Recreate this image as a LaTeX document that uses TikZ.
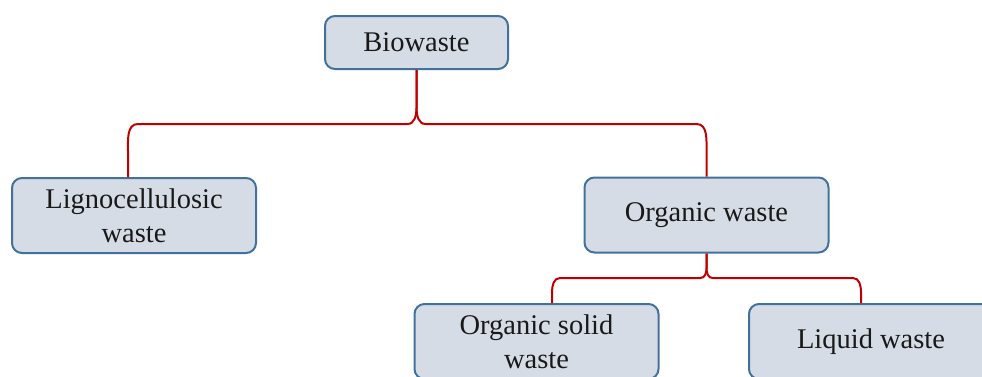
\documentclass[tikz,border=0pt]{standalone}
\usepackage{fontspec}
\setmainfont{Liberation Serif}
\usetikzlibrary{calc}
\definecolor{boxfill}{HTML}{D6DCE5}
\definecolor{boxline}{HTML}{41719C}
\definecolor{branchred}{HTML}{C00000}
\tikzset{
  wastebox/.style={draw=boxline, fill=boxfill, line width=2pt, rounded corners=10pt,
    minimum width=244pt, minimum height=75pt, inner sep=0pt, align=center,
    font=\fontsize{28.5}{34}\selectfont, text=black!90},
  branch/.style={draw=branchred, line width=2pt}
}
\begin{document}
\begin{tikzpicture}[x=1pt,y=1pt]
			%%%%% START %%%%%
			\clip (0,0) rectangle (982,376);
			
			\node[wastebox, minimum width=183pt, minimum height=53pt] (bio) at (416.5,333.5) {Biowaste};
			\node[wastebox] (ligno) at (134,160.5) {Lignocellulosic\\waste};
			\node[wastebox] (organic) at (706.5,161) {Organic waste};
			\node[wastebox] (solid) at (536.5,34.5) {Organic solid\\waste};
			\node[wastebox] (liquid) at (871,34.5) {Liquid waste};
			
			\coordinate (bioknot) at ($(bio.south)+(0,-54)$);
			\coordinate (lignotop) at ($(ligno.north)+(-6,0)$);
			\draw[branch] (bio.south) -- ++(0,-38) to[out=-90,in=0] ++(-9,-16) -- ($(lignotop |- bioknot)+(10,0)$) to[out=180,in=90] ++(-10,-27) -- (lignotop);
			\draw[branch] (bio.south) -- ++(0,-38) to[out=-90,in=180] ++(9,-16) -- ($(organic.north |- bioknot)+(-10,0)$) to[out=0,in=90] ++(10,-27) -- (organic.north);
			
			\coordinate (orgknot) at ($(organic.south)+(0,-24.5)$);
			\coordinate (solidtop) at ($(solid.north)+(15.5,0)$);
			\coordinate (liquidtop) at ($(liquid.north)+(-10,0)$);
			\draw[branch] (organic.south) -- ++(0,-15) to[out=-90,in=0] ++(-6,-9.5) -- ($(solidtop |- orgknot)+(8,0)$) to[out=180,in=90] ++(-8,-14) -- (solidtop);
			\draw[branch] (organic.south) -- ++(0,-15) to[out=-90,in=180] ++(6,-9.5) -- ($(liquidtop |- orgknot)+(-8,0)$) to[out=0,in=90] ++(8,-14) -- (liquidtop);
			
			%%%%% END %%%%%
\end{tikzpicture}
\end{document}
